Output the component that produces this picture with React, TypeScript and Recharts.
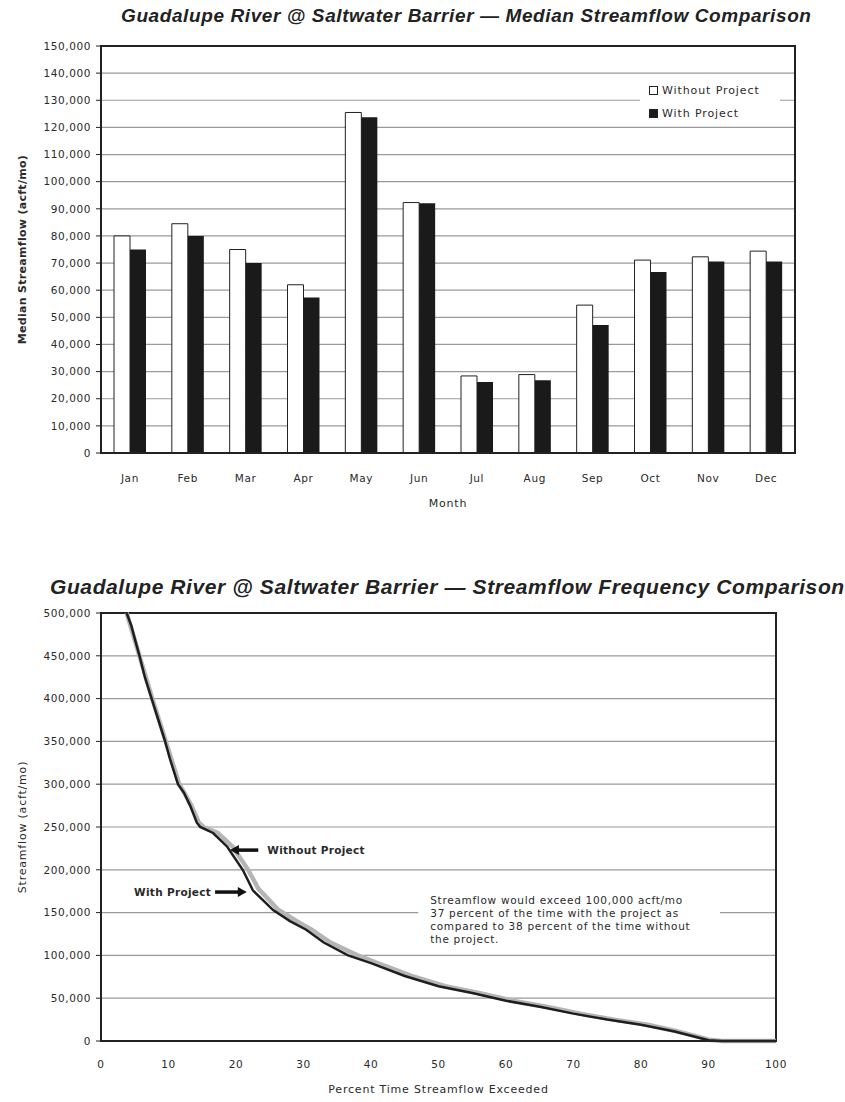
import React from 'react'
import {
  BarChart, Bar, LineChart, Line, XAxis, YAxis, CartesianGrid,
  ReferenceArea, ReferenceLine,
} from 'recharts'

// median streamflow by month (acft/mo)
const months = ['Jan', 'Feb', 'Mar', 'Apr', 'May', 'Jun', 'Jul', 'Aug', 'Sep', 'Oct', 'Nov', 'Dec']
const withoutProject = [80000, 84500, 75000, 62000, 125500, 92300, 28400, 28900, 54500, 71100, 72300, 74400]
const withProject = [75000, 80000, 70000, 57300, 123700, 92000, 26200, 26800, 47200, 66700, 70600, 70600]
const medianTicks = [0, 10000, 20000, 30000, 40000, 50000, 60000, 70000, 80000, 90000, 100000, 110000, 120000, 130000, 140000, 150000]

// frequency curves (percent of time exceeded vs streamflow)
const withPct = [3.8, 4.5, 5, 5.7, 6.5, 7.5, 8.5, 9.5, 10.2, 11.4, 12.3, 13.2, 14.2, 14.7, 16.6, 18.7, 21, 22.5, 25.5, 28, 30.4, 33, 36.6, 40, 45, 50, 55, 60, 65, 70, 75, 80, 85, 88, 90, 92, 100]
const withFlow = [500000, 485000, 470000, 450000, 425000, 400000, 375000, 350000, 330000, 300000, 290000, 275000, 255000, 250000, 243000, 227000, 200000, 176000, 153000, 140000, 130000, 115000, 100000, 91000, 76000, 64000, 56000, 47000, 40000, 32000, 25000, 19000, 11000, 5000, 1000, 0, 0]
const withoutPct = [3.8, 5.7, 7.6, 9.6, 11.6, 13.4, 14.5, 15.2, 17.3, 19.5, 21.8, 23.3, 26.3, 29, 31.2, 34, 38, 41, 46, 51, 56, 61, 66, 71, 76, 81, 85, 88, 90, 92, 100]
const withoutFlow = [500000, 450000, 400000, 350000, 300000, 275000, 255000, 250000, 243000, 227000, 200000, 178000, 153000, 140000, 130000, 115000, 100000, 91000, 76000, 64000, 56000, 47000, 40000, 32000, 25000, 19000, 12000, 6000, 1500, 0, 0]
const pctTicks = [0, 10, 20, 30, 40, 50, 60, 70, 80, 90, 100]
const flowTicks = [0, 50000, 100000, 150000, 200000, 250000, 300000, 350000, 400000, 450000, 500000]

const noteLines = [
  'Streamflow would exceed 100,000 acft/mo',
  '37 percent of the time with the project as',
  'compared to 38 percent of the time without',
  'the project.',
]

const FONT = '"DejaVu Sans", Verdana, sans-serif'
const TITLE_FONT = '"Liberation Sans", Arial, Helvetica, sans-serif'
const INK = '#2a2a2a'
const GRID = '#9a9a9a'

const medianData = months.map((m, i) => ({ month: m, without: withoutProject[i], with: withProject[i] }))
const withSeries = withPct.map((p, i) => ({ pct: p, flow: withFlow[i] }))
const withoutSeries = withoutPct.map((p, i) => ({ pct: p, flow: withoutFlow[i] }))

const fmt = (v: number) => v.toLocaleString('en-US')
const tickStyle = { fontSize: 10.5, fill: INK, fontFamily: FONT, letterSpacing: 0.6 }
const axisTitle = { fontSize: 11, fill: INK, fontFamily: FONT, letterSpacing: 0.8 }

function MedianLegend() {
  const item = (fill: string, text: string) => (
    <div style={{ display: 'flex', alignItems: 'center', height: 23 }}>
      <span style={{ width: 7, height: 7, border: '1px solid #222', background: fill, marginRight: 4 }} />
      <span>{text}</span>
    </div>
  )
  return (
    <div style={{
      position: 'absolute', left: 640, top: 79, width: 140, background: '#fff', padding: '0 0 0 9px',
      boxSizing: 'border-box', fontSize: 11, fontFamily: FONT, color: INK, letterSpacing: 0.9,
    }}>
      {item('#fff', 'Without Project')}
      {item('#1a1a1a', 'With Project')}
    </div>
  )
}

function Arrow(props: any) {
  const { x1, y1, x2, y2, text, side } = props
  const dir = x2 > x1 ? 1 : -1
  const tx = side === 'left' ? Math.min(x1, x2) - 4 : Math.max(x1, x2) + 9
  return (
    <g>
      <line x1={x1} y1={y1} x2={x2 - dir * 6} y2={y2} stroke="#111" strokeWidth={3.5} />
      <polygon points={`${x2},${y2} ${x2 - dir * 9},${y2 - 5} ${x2 - dir * 9},${y2 + 5}`} fill="#111" />
      <text x={tx} y={y1 + 4} textAnchor={side === 'left' ? 'end' : 'start'}
        fontSize={10.5} fontWeight="bold" fontFamily={FONT} letterSpacing={0.3} fill={INK}>{text}</text>
    </g>
  )
}

function NoteLabel(props: any) {
  const { x, y } = props.viewBox
  return (
    <text x={x + 12} y={y + 14} fontSize={10.5} fontFamily={FONT} letterSpacing={0.7} fill={INK}>
      {noteLines.map((l, i) => (
        <tspan key={i} x={x + 12} dy={i === 0 ? 0 : 13}>{l}</tspan>
      ))}
    </text>
  )
}

const titleStyle: React.CSSProperties = {
  position: 'absolute', fontFamily: TITLE_FONT, fontWeight: 'bold', fontStyle: 'italic',
  color: '#222', whiteSpace: 'nowrap', letterSpacing: 0.6,
}

export default function App() {
  return (
    <div style={{ position: 'absolute', left: 0, top: 0, width: 845, height: 1102, background: '#fff', overflow: 'hidden' }}>
      <div style={{ ...titleStyle, top: 5, left: 121, fontSize: 19 }}>
        Guadalupe River @ Saltwater Barrier — Median Streamflow Comparison
      </div>
      <div style={{ position: 'absolute', left: 0, top: 0 }}>
        <BarChart width={845} height={525} data={medianData} barGap={0} barSize={16}
          margin={{ top: 46, right: 50, bottom: 12, left: 8 }}>
          <CartesianGrid vertical={false} stroke={GRID} strokeWidth={1.2} />
          <XAxis dataKey="month" tick={tickStyle} tickLine={false} axisLine={{ stroke: '#222', strokeWidth: 2 }}
            tickMargin={16} height={60}
            label={{ value: 'Month', position: 'insideBottom', offset: 6, style: axisTitle }} />
          <YAxis domain={[0, 150000]} ticks={medianTicks} interval={0} tickFormatter={fmt} tick={tickStyle}
            width={93} tickSize={5} tickMargin={5} stroke="#222"
            label={{ value: 'Median Streamflow (acft/mo)', angle: -90, position: 'insideLeft', offset: 14,
              style: { ...axisTitle, textAnchor: 'middle', fontWeight: 'bold', letterSpacing: 0.3 } }} />
          <Bar dataKey="without" fill="#fff" stroke="#222" strokeWidth={1} isAnimationActive={false} />
          <Bar dataKey="with" fill="#1a1a1a" isAnimationActive={false} />
          <ReferenceArea y1={0} y2={150000} fill="none" stroke="#222" strokeWidth={2} />
        </BarChart>
        <MedianLegend />
      </div>

      <div style={{ ...titleStyle, top: 575, left: 50, fontSize: 21 }}>
        Guadalupe River @ Saltwater Barrier — Streamflow Frequency Comparison
      </div>
      <div style={{ position: 'absolute', left: 0, top: 570 }}>
        <LineChart width={845} height={532} margin={{ top: 43, right: 69, bottom: 6, left: 8 }}>
          <CartesianGrid vertical={false} stroke={GRID} strokeWidth={1.2} />
          <XAxis type="number" dataKey="pct" domain={[0, 100]} ticks={pctTicks} interval={0} tick={tickStyle}
            tickLine={false} axisLine={{ stroke: '#222', strokeWidth: 2 }} tickMargin={14} height={55}
            allowDuplicatedCategory={false}
            label={{ value: 'Percent Time Streamflow Exceeded', position: 'insideBottom', offset: 3, style: axisTitle }} />
          <YAxis type="number" dataKey="flow" domain={[0, 500000]} ticks={flowTicks} interval={0} tickFormatter={fmt}
            tick={tickStyle} width={93} tickSize={5} tickMargin={5} stroke="#222"
            label={{ value: 'Streamflow (acft/mo)', angle: -90, position: 'insideLeft', offset: 14,
              style: { ...axisTitle, textAnchor: 'middle' } }} />
          <ReferenceArea x1={47} x2={91.7} y1={110000} y2={176000} fill="#fff" fillOpacity={1} stroke="none"
            label={<NoteLabel />} />
          <Line data={withoutSeries} dataKey="flow" type="linear" stroke="#b5b5b5" strokeWidth={4.5} dot={false}
            isAnimationActive={false} />
          <Line data={withSeries} dataKey="flow" type="linear" stroke="#1e1e1e" strokeWidth={2.5} dot={false}
            isAnimationActive={false} />
          <ReferenceLine segment={[{ x: 23.3, y: 223000 }, { x: 19.1, y: 223000 }]}
            shape={(p: any) => <Arrow {...p} text="Without Project" side="right" />} />
          <ReferenceLine segment={[{ x: 16.9, y: 174000 }, { x: 21.6, y: 174000 }]}
            shape={(p: any) => <Arrow {...p} text="With Project" side="left" />} />
          <ReferenceArea x1={0} x2={100} y1={0} y2={500000} fill="none" stroke="#222" strokeWidth={2} />
        </LineChart>
      </div>
    </div>
  )
}
